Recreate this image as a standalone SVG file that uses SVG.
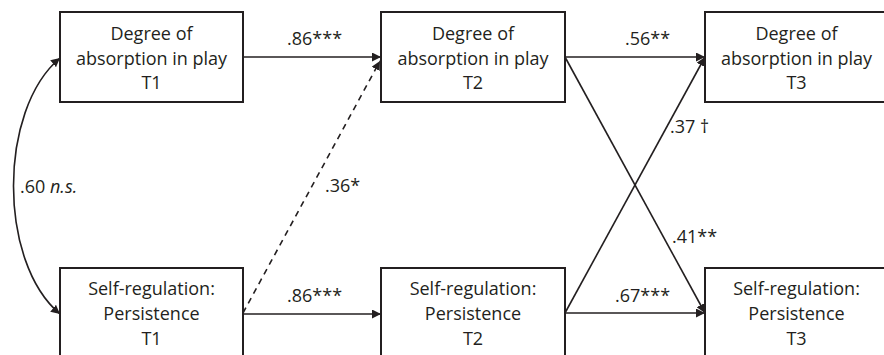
<svg xmlns="http://www.w3.org/2000/svg" width="884" height="355" viewBox="0 0 884 355">
<defs>
<marker id="ah" viewBox="0 0 10 10" refX="10" refY="5" markerWidth="9" markerHeight="9" markerUnits="userSpaceOnUse" orient="auto-start-reverse">
<path d="M0,0 L10,5 L0,10 z" fill="#231f20"/>
</marker>
<style>
.box{fill:#fff;stroke:#231f20;stroke-width:2}
.t{font-family:"Open Sans","Noto Sans","Liberation Sans",sans-serif;font-size:18px;fill:#231f20;text-anchor:middle}
.l{font-family:"Open Sans","Noto Sans","Liberation Sans",sans-serif;font-size:18px;fill:#231f20}
.c{fill:none;stroke:#231f20;stroke-width:1.6;marker-end:url(#ah)}
.d{stroke-dasharray:6,5}
</style>
</defs>
<g id="connectors">
<path class="c" d="M243,57 L381,57"/>
<path class="c" d="M243,314 L381,314"/>
<path class="c d" d="M243,313 L380,61"/>
<path class="c" d="M565,57 L705,57"/>
<path class="c" d="M565,313 L705,313"/>
<path class="c" d="M565,57 L705,313"/>
<path class="c" d="M565,313 L705,57"/>
<path class="c" style="marker-start:url(#ah)" d="M60,58 C-2,110 -2,262 60,314"/>
</g>
<g id="labels">
<text class="l" x="287" y="45">.86***</text>
<text class="l" x="625" y="45">.56**</text>
<text class="l" x="670" y="133">.37 †</text>
<text class="l" x="325" y="192">.36*</text>
<text class="l" x="20" y="193">.60 <tspan font-style="italic">n.s.</tspan></text>
<text class="l" x="287" y="302">.86***</text>
<text class="l" x="672" y="243">.41**</text>
<text class="l" x="615" y="302">.67***</text>
</g>
<g id="abs1"><rect class="box" x="60" y="12" width="183" height="90"/>
<text class="t" x="151.5" y="40">Degree of</text><text class="t" x="151.5" y="65">absorption in play</text><text class="t" x="151.5" y="89">T1</text></g>
<g id="abs2"><rect class="box" x="381" y="12" width="184" height="90"/>
<text class="t" x="473" y="40">Degree of</text><text class="t" x="473" y="65">absorption in play</text><text class="t" x="473" y="89">T2</text></g>
<g id="abs3"><rect class="box" x="705" y="12" width="184" height="90"/>
<text class="t" x="796.5" y="40">Degree of</text><text class="t" x="796.5" y="65">absorption in play</text><text class="t" x="796.5" y="89">T3</text></g>
<g id="sr1"><rect class="box" x="60" y="268" width="183" height="100"/>
<text class="t" x="151.5" y="295">Self-regulation:</text><text class="t" x="151.5" y="320">Persistence</text><text class="t" x="151.5" y="345">T1</text></g>
<g id="sr2"><rect class="box" x="381" y="268" width="184" height="100"/>
<text class="t" x="473" y="295">Self-regulation:</text><text class="t" x="473" y="320">Persistence</text><text class="t" x="473" y="345">T2</text></g>
<g id="sr3"><rect class="box" x="705" y="268" width="184" height="100"/>
<text class="t" x="796.5" y="295">Self-regulation:</text><text class="t" x="796.5" y="320">Persistence</text><text class="t" x="796.5" y="345">T3</text></g>
</svg>
